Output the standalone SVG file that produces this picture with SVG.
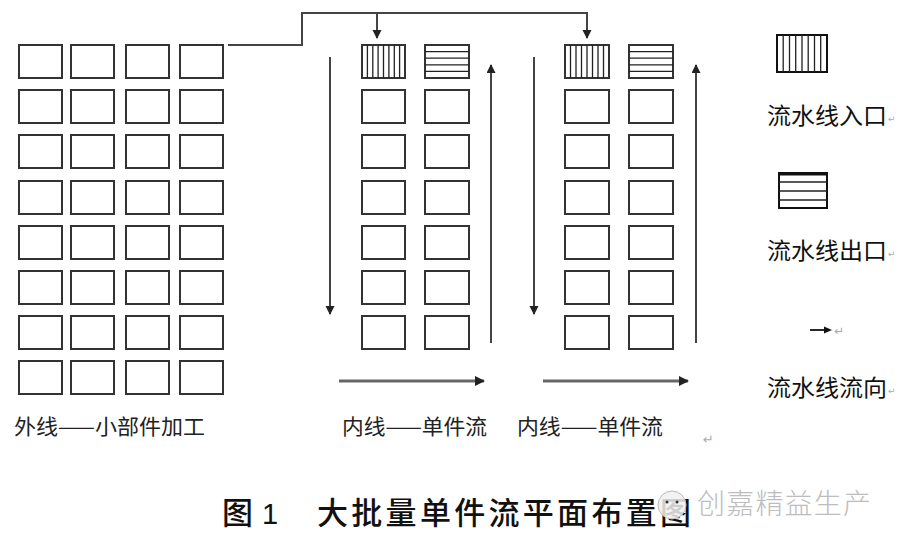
<svg xmlns="http://www.w3.org/2000/svg" width="900" height="549" viewBox="0 0 900 549">
<style>
.box{fill:#fff;stroke:#333;stroke-width:2}
.hatch{stroke:#222;stroke-width:1.3}
.ln{fill:none;stroke:#444;stroke-width:2}
.flow{fill:none;stroke:#666;stroke-width:3.2}
.lbl{font-family:"Noto Sans CJK SC","Noto Sans",sans-serif;fill:#222}
.leg{font-family:"Noto Sans CJK SC","Noto Sans",sans-serif;fill:#111;font-size:23px}
.mark{font-family:"DejaVu Sans",sans-serif;fill:#aaa}
</style>
<defs>
<marker id="ah" markerUnits="userSpaceOnUse" markerWidth="10" markerHeight="10" refX="8" refY="4.5" orient="auto">
<path d="M0,0 L9,4.5 L0,9 z" fill="#222"/>
</marker>
<marker id="ahf" markerUnits="userSpaceOnUse" markerWidth="11" markerHeight="11" refX="9" refY="5" orient="auto">
<path d="M0,0 L10,5 L0,10 z" fill="#222"/>
</marker>
</defs>
<rect width="900" height="549" fill="#fff"/>

<g id="outer-line">
<g id="o-r1"><rect class="box" x="19" y="45" width="43" height="33"/><rect class="box" x="71" y="45" width="43" height="33"/><rect class="box" x="126" y="45" width="43" height="33"/><rect class="box" x="180" y="45" width="43" height="33"/></g>
<g id="o-r2"><rect class="box" x="19" y="90" width="43" height="33"/><rect class="box" x="71" y="90" width="43" height="33"/><rect class="box" x="126" y="90" width="43" height="33"/><rect class="box" x="180" y="90" width="43" height="33"/></g>
<g id="o-r3"><rect class="box" x="19" y="135" width="43" height="33"/><rect class="box" x="71" y="135" width="43" height="33"/><rect class="box" x="126" y="135" width="43" height="33"/><rect class="box" x="180" y="135" width="43" height="33"/></g>
<g id="o-r4"><rect class="box" x="19" y="181" width="43" height="33"/><rect class="box" x="71" y="181" width="43" height="33"/><rect class="box" x="126" y="181" width="43" height="33"/><rect class="box" x="180" y="181" width="43" height="33"/></g>
<g id="o-r5"><rect class="box" x="19" y="226" width="43" height="33"/><rect class="box" x="71" y="226" width="43" height="33"/><rect class="box" x="126" y="226" width="43" height="33"/><rect class="box" x="180" y="226" width="43" height="33"/></g>
<g id="o-r6"><rect class="box" x="19" y="271" width="43" height="33"/><rect class="box" x="71" y="271" width="43" height="33"/><rect class="box" x="126" y="271" width="43" height="33"/><rect class="box" x="180" y="271" width="43" height="33"/></g>
<g id="o-r7"><rect class="box" x="19" y="316" width="43" height="33"/><rect class="box" x="71" y="316" width="43" height="33"/><rect class="box" x="126" y="316" width="43" height="33"/><rect class="box" x="180" y="316" width="43" height="33"/></g>
<g id="o-r8"><rect class="box" x="19" y="361" width="43" height="33"/><rect class="box" x="71" y="361" width="43" height="33"/><rect class="box" x="126" y="361" width="43" height="33"/><rect class="box" x="180" y="361" width="43" height="33"/></g>
</g>

<g id="inner-line-1">
<g id="i1-inlet"><rect class="box" x="362" y="45" width="43" height="33"/>
<path class="hatch" d="M367.4,45V78M372.8,45V78M378.1,45V78M383.5,45V78M388.9,45V78M394.3,45V78M399.6,45V78"/></g>
<g id="i1-outlet"><rect class="box" x="425" y="45" width="44" height="33"/>
<path class="hatch" d="M425,51.6H469M425,58.2H469M425,64.8H469M425,71.4H469"/></g>
<g id="i1-r2"><rect class="box" x="362" y="90" width="43" height="33"/><rect class="box" x="425" y="90" width="44" height="33"/></g>
<g id="i1-r3"><rect class="box" x="362" y="135" width="43" height="33"/><rect class="box" x="425" y="135" width="44" height="33"/></g>
<g id="i1-r4"><rect class="box" x="362" y="181" width="43" height="33"/><rect class="box" x="425" y="181" width="44" height="33"/></g>
<g id="i1-r5"><rect class="box" x="362" y="226" width="43" height="33"/><rect class="box" x="425" y="226" width="44" height="33"/></g>
<g id="i1-r6"><rect class="box" x="362" y="271" width="43" height="33"/><rect class="box" x="425" y="271" width="44" height="33"/></g>
<g id="i1-r7"><rect class="box" x="362" y="316" width="43" height="33"/><rect class="box" x="425" y="316" width="44" height="33"/></g>
</g>

<g id="inner-line-2">
<g id="i2-inlet"><rect class="box" x="565" y="45" width="44" height="33"/>
<path class="hatch" d="M570.5,45V78M576,45V78M581.5,45V78M587,45V78M592.5,45V78M598,45V78M603.5,45V78"/></g>
<g id="i2-outlet"><rect class="box" x="629" y="45" width="44" height="33"/>
<path class="hatch" d="M629,51.6H673M629,58.2H673M629,64.8H673M629,71.4H673"/></g>
<g id="i2-r2"><rect class="box" x="565" y="90" width="44" height="33"/><rect class="box" x="629" y="90" width="44" height="33"/></g>
<g id="i2-r3"><rect class="box" x="565" y="135" width="44" height="33"/><rect class="box" x="629" y="135" width="44" height="33"/></g>
<g id="i2-r4"><rect class="box" x="565" y="181" width="44" height="33"/><rect class="box" x="629" y="181" width="44" height="33"/></g>
<g id="i2-r5"><rect class="box" x="565" y="226" width="44" height="33"/><rect class="box" x="629" y="226" width="44" height="33"/></g>
<g id="i2-r6"><rect class="box" x="565" y="271" width="44" height="33"/><rect class="box" x="629" y="271" width="44" height="33"/></g>
<g id="i2-r7"><rect class="box" x="565" y="316" width="44" height="33"/><rect class="box" x="629" y="316" width="44" height="33"/></g>
</g>

<g id="connectors">
<path class="ln" d="M228,45H302V13H587V38" marker-end="url(#ah)"/>
<path class="ln" d="M377,13V38" marker-end="url(#ah)"/>
<path class="ln" d="M330,57V314" marker-end="url(#ah)"/>
<path class="ln" d="M491,343V65" marker-end="url(#ah)"/>
<path class="ln" d="M534,57V314" marker-end="url(#ah)"/>
<path class="ln" d="M696,343V65" marker-end="url(#ah)"/>
<path class="flow" d="M339,381H484" marker-end="url(#ahf)"/>
<path class="flow" d="M543,381H688" marker-end="url(#ahf)"/>
</g>

<g id="labels">
<text class="lbl" x="14" y="434" font-size="21" textLength="191" lengthAdjust="spacingAndGlyphs">外线——小部件加工</text>
<text class="lbl" x="342" y="434" font-size="21" textLength="145" lengthAdjust="spacingAndGlyphs">内线——单件流</text>
<text class="lbl" x="517" y="434" font-size="21" textLength="146" lengthAdjust="spacingAndGlyphs">内线——单件流</text>
<text class="mark" x="703" y="444" font-size="13">↵</text>
</g>

<g id="legend">
<g id="leg-inlet"><rect x="777" y="35" width="50" height="37" fill="#fff" stroke="#111" stroke-width="2"/>
<path class="hatch" d="M783.2,35V72M789.5,35V72M795.7,35V72M802,35V72M808.2,35V72M814.5,35V72M820.7,35V72"/>
<text class="leg" x="767" y="124" textLength="120" lengthAdjust="spacingAndGlyphs">流水线入口</text>
<text class="mark" x="888" y="122" font-size="9">↵</text></g>
<g id="leg-outlet"><rect x="779" y="173" width="48" height="35" fill="#fff" stroke="#111" stroke-width="2"/>
<path d="M779,174H827" stroke="#111" stroke-width="3"/>
<path class="hatch" d="M779,182H827M779,191H827M779,200H827"/>
<text class="leg" x="767" y="259" textLength="120" lengthAdjust="spacingAndGlyphs">流水线出口</text>
<text class="mark" x="888" y="257" font-size="9">↵</text></g>
<g id="leg-flow"><path d="M810,330H826" stroke="#111" stroke-width="1.8"/><path d="M824,326.5L832,330L824,333.5z" fill="#111"/>
<text class="mark" x="834" y="335" font-size="12">↵</text>
<text class="leg" x="767" y="396" textLength="120" lengthAdjust="spacingAndGlyphs">流水线流向</text>
<text class="mark" x="888" y="394" font-size="9">↵</text></g>
</g>

<g id="title">
<text x="222" y="524" font-family="Noto Sans CJK SC, Noto Sans, sans-serif" font-size="31" font-weight="500" fill="#111">图</text>
<text x="262" y="524" font-family="Liberation Sans, sans-serif" font-size="29" fill="#111">1</text>
<text x="317" y="524" font-family="Noto Sans CJK SC, Noto Sans, sans-serif" font-size="31" font-weight="500" fill="#111" textLength="374" lengthAdjust="spacing">大批量单件流平面布置图</text>
</g>

<g id="watermark">
<circle cx="672" cy="505" r="14" fill="#f0f0f0" fill-opacity="0.85" stroke="#bbb" stroke-width="1"/>
<circle cx="667" cy="502" r="1.5" fill="#333"/><circle cx="677" cy="502" r="1.5" fill="#333"/>
<text x="697" y="514" font-family="Noto Sans CJK SC, Noto Sans, sans-serif" font-size="28" font-weight="300" fill="#bdbdbd" textLength="174" lengthAdjust="spacing">创嘉精益生产</text>
</g>
</svg>
